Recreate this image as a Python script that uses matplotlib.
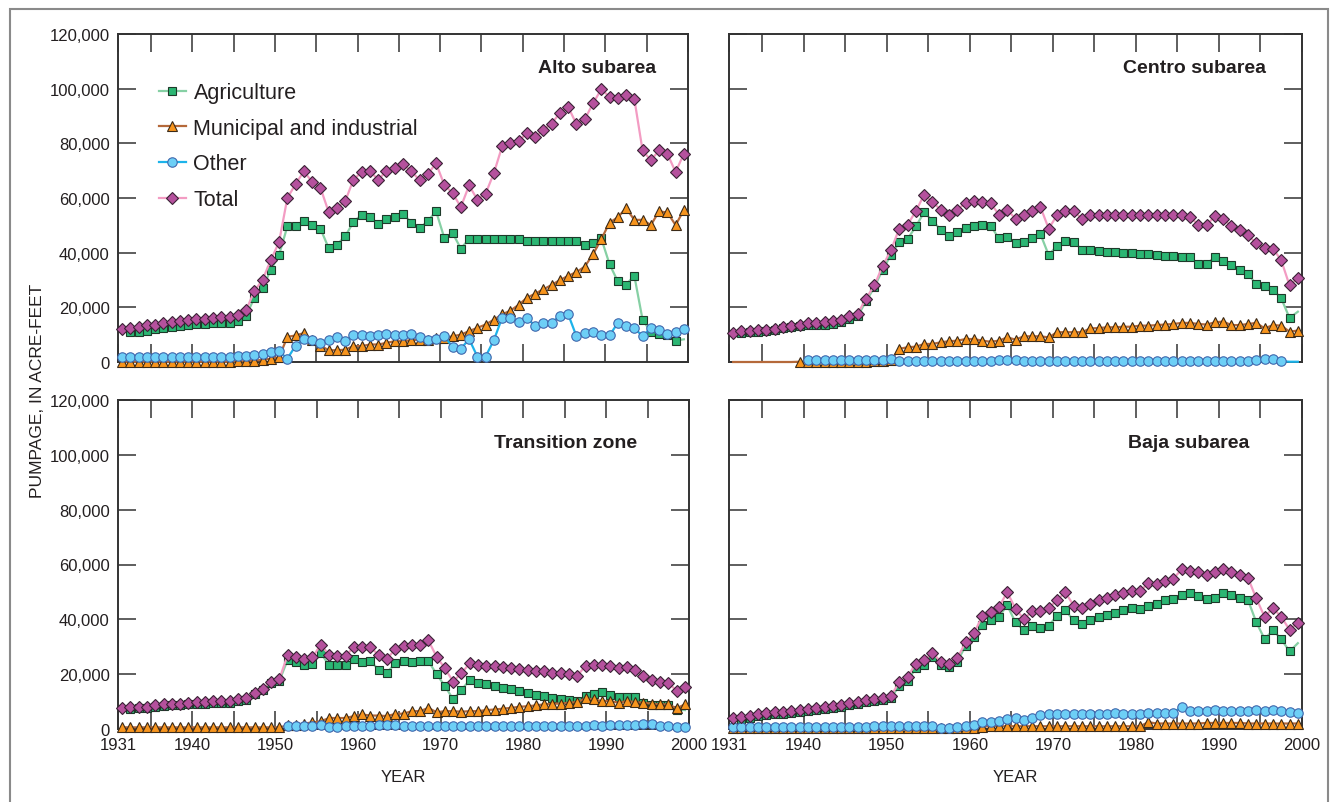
"""
    pumpage by subarea, 1931-1999
"""

import numpy as np
import matplotlib
matplotlib.use('Agg')
import matplotlib.pyplot as plt
from matplotlib.lines import Line2D
from matplotlib.patches import Rectangle

NAN = np.nan
years = np.arange(1931, 2000)

# pumpage, thousands of acre-feet, one value per year 1931-1999
alto_ag = [NAN, 10.8, 11.1, 11.4, 11.9, 12.5, 12.9, 13.3, 13.7, 13.9,
           13.9, 14.2, 14.3, 14.3, 15.1, 16.9, 23.4, 27.1, 33.7, 39.2,
           49.6, 49.9, 51.5, 50.0, 48.8, 41.7, 42.9, 46.0, 51.2, 53.9,
           53.2, 50.4, 52.2, 53.0, 54.3, 51.0, 49.0, 51.5, 55.2, 45.4,
           47.2, 41.5, 45.0, 45.0, 45.0, 45.0, 45.0, 45.0, 45.0, 44.1,
           44.1, 44.1, 44.1, 44.1, 44.1, 44.1, 42.8, 43.5, 45.2, 35.8,
           29.5, 28.3, 31.6, 15.5, 11.0, 10.2, 10.0, 7.8, 8.3]
alto_muni = [0.1, 0.1, 0.1, 0.1, 0.1, 0.1, 0.1, 0.1, 0.1, 0.1,
             0.1, 0.1, 0.1, 0.1, 0.2, 0.3, 0.5, 0.8, 1.2, 1.7,
             9.2, 9.7, 10.6, 8.0, 6.0, 4.3, 4.3, 4.5, 5.8, 5.8,
             6.4, 6.4, 7.0, 7.6, 7.6, 8.0, 8.2, 8.2, 8.8, 8.8,
             9.4, 10.0, 11.3, 12.5, 13.7, 15.5, 17.4, 18.8, 20.9, 23.5,
             25.0, 26.6, 28.2, 30.0, 31.5, 32.9, 34.9, 39.4, 44.9, 51.0,
             52.9, 56.3, 52.0, 52.0, 50.1, 55.1, 54.7, 50.1, 55.6]
alto_other = [1.7, 1.8, 1.8, 1.8, 1.9, 1.9, 1.9, 1.9, 1.9, 1.9,
              2.0, 2.0, 2.0, 2.0, 2.2, 2.3, 2.6, 3.1, 3.6, 3.9,
              1.2, 6.0, 8.5, 8.0, 7.0, 8.2, 9.2, 7.6, 9.7, 9.7,
              9.4, 9.7, 10.4, 9.7, 9.7, 10.4, 9.2, 8.0, 8.4, 9.4,
              5.5, 4.8, 8.4, 2.0, 2.0, 8.0, 16.2, 16.2, 14.6, 16.2,
              13.1, 14.1, 14.3, 17.0, 17.4, 9.4, 10.6, 11.0, 9.7, 9.7,
              14.3, 13.1, 12.5, 9.4, 12.5, 11.6, 10.4, 10.9, 12.1]
alto_total = [12.0, 12.5, 12.9, 13.5, 13.7, 14.1, 14.5, 15.1, 15.5, 15.7,
              15.9, 16.1, 16.3, 16.5, 17.1, 18.9, 25.9, 30.1, 37.3, 43.9,
              60.0, 65.1, 69.8, 65.9, 63.8, 54.9, 56.3, 58.8, 66.7, 69.5,
              69.8, 66.7, 69.9, 71.0, 72.3, 69.9, 66.5, 68.7, 72.7, 64.8,
              61.8, 56.7, 64.6, 59.4, 61.6, 69.1, 78.9, 80.1, 80.7, 83.9,
              82.2, 85.0, 87.2, 91.2, 93.3, 87.0, 88.8, 94.6, 99.8, 97.0,
              96.7, 97.6, 96.3, 77.4, 73.8, 77.4, 76.2, 69.5, 76.2]

centro_ag = [NAN, 10.7, 10.8, 11.1, 11.3, 11.7, 12.3, 12.7, 13.2, 13.4,
             13.4, 13.7, 14.0, 14.6, 15.9, 16.8, 22.2, 27.3, 33.8, 39.1,
             43.8, 45.0, 49.6, 54.8, 51.7, 48.4, 46.0, 47.4, 49.0, 49.9,
             50.1, 49.9, 45.2, 45.6, 43.5, 43.8, 45.2, 46.8, 39.1, 42.6,
             44.4, 44.0, 41.1, 41.0, 40.7, 40.4, 40.1, 39.9, 39.8, 39.5,
             39.4, 39.1, 38.9, 38.8, 38.5, 38.3, 35.9, 35.9, 38.3, 37.1,
             35.5, 33.8, 32.1, 28.4, 27.7, 26.5, 23.3, 16.1, 18.4]
centro_muni = [0.0, 0.0, 0.0, 0.0, 0.0, 0.0, 0.0, 0.0, 0.1, 0.1,
               0.1, 0.1, 0.1, 0.1, 0.1, 0.1, 0.1, 0.2, 0.3, 0.6,
               4.8, 5.4, 5.6, 6.6, 6.6, 7.2, 7.6, 7.8, 8.4, 8.4,
               7.8, 7.4, 7.8, 9.0, 8.2, 9.4, 9.4, 9.4, 9.0, 10.9,
               10.9, 10.9, 10.9, 12.3, 12.4, 12.7, 12.7, 12.9, 12.9, 13.3,
               13.3, 13.5, 13.7, 13.9, 14.3, 14.3, 13.9, 13.7, 14.5, 14.8,
               13.5, 13.5, 13.9, 14.3, 12.3, 13.5, 13.3, 11.1, 11.5]
centro_other = [NAN, NAN, NAN, NAN, NAN, NAN, NAN, NAN, NAN, 0.9,
                0.9, 0.9, 0.9, 0.9, 0.9, 0.9, 0.9, 0.9, 0.9, 1.0,
                0.2, 0.2, 0.2, 0.2, 0.2, 0.2, 0.2, 0.2, 0.2, 0.2,
                0.2, 0.2, 0.7, 0.8, 0.6, 0.2, 0.2, 0.2, 0.2, 0.2,
                0.2, 0.2, 0.2, 0.2, 0.2, 0.2, 0.2, 0.2, 0.2, 0.2,
                0.2, 0.2, 0.2, 0.2, 0.2, 0.2, 0.2, 0.2, 0.2, 0.2,
                0.2, 0.2, 0.2, 0.9, 1.1, 1.1, 0.3, 0.1, 0.1]
centro_total = [10.6, 11.2, 11.3, 11.6, 11.8, 12.2, 12.8, 13.2, 13.7, 14.3,
                14.3, 14.6, 14.9, 15.5, 16.8, 17.7, 23.2, 28.0, 35.1, 40.9,
                48.8, 50.2, 55.2, 61.2, 58.5, 55.7, 53.9, 55.7, 58.3, 58.8,
                58.5, 58.2, 53.9, 55.7, 52.4, 53.7, 55.2, 56.7, 48.8, 53.7,
                55.2, 55.2, 52.4, 53.7, 53.7, 53.7, 53.7, 53.7, 53.7, 53.7,
                53.7, 53.7, 53.7, 53.7, 53.7, 53.2, 50.2, 50.0, 53.4, 52.4,
                49.6, 48.2, 46.3, 43.5, 41.7, 41.5, 37.2, 28.0, 30.7]

trans_ag = [NAN, 7.4, 7.5, 7.5, 8.0, 8.4, 8.6, 8.7, 9.0, 9.2,
            9.3, 9.5, 9.5, 9.6, 10.2, 10.6, 12.7, 14.1, 16.6, 17.6,
            25.2, 24.3, 23.3, 23.7, 27.7, 23.3, 23.3, 23.3, 25.5, 24.3,
            24.8, 21.6, 20.6, 23.9, 24.9, 24.3, 24.8, 24.8, 20.0, 15.7,
            10.8, 14.2, 17.9, 16.9, 16.3, 15.7, 15.1, 14.5, 13.7, 13.0,
            12.4, 12.0, 11.4, 11.0, 10.6, 10.2, 12.0, 12.6, 13.5, 12.3,
            11.8, 11.8, 11.7, 9.6, 8.8, 8.8, 8.6, 7.1, 6.9]
trans_muni = [0.6, 0.6, 0.6, 0.6, 0.6, 0.6, 0.6, 0.6, 0.6, 0.6,
              0.6, 0.6, 0.6, 0.6, 0.6, 0.6, 0.6, 0.6, 0.6, 0.6,
              1.3, 1.6, 2.0, 2.4, 2.8, 4.0, 4.0, 4.0, 4.7, 5.3,
              4.9, 4.9, 4.7, 5.5, 5.6, 6.5, 6.5, 7.7, 6.1, 6.5,
              6.5, 6.3, 6.5, 6.5, 6.9, 7.1, 7.4, 7.7, 8.1, 8.3,
              8.6, 9.0, 9.2, 9.3, 9.6, 9.8, 11.2, 10.8, 10.2, 10.2,
              9.6, 10.2, 9.8, 9.6, 9.2, 9.0, 9.0, 7.5, 9.0]
trans_other = [NAN, NAN, NAN, NAN, NAN, NAN, NAN, NAN, NAN, NAN,
               NAN, NAN, NAN, NAN, NAN, NAN, NAN, NAN, NAN, NAN,
               1.0, 1.0, 1.2, 1.2, 1.6, 0.7, 0.7, 1.0, 1.0, 1.2,
               1.2, 1.5, 1.5, 1.5, 1.2, 1.0, 1.0, 1.0, 1.0, 1.0,
               1.0, 1.0, 1.0, 1.0, 1.0, 1.0, 1.0, 1.0, 1.0, 1.0,
               1.0, 1.0, 1.0, 1.0, 1.0, 1.0, 1.2, 1.5, 1.2, 1.5,
               1.5, 1.5, 1.6, 2.0, 2.0, 1.2, 1.0, 0.7, 0.8]
trans_total = [7.7, 8.0, 8.1, 8.1, 8.6, 9.0, 9.2, 9.3, 9.6, 9.8,
               9.9, 10.1, 10.1, 10.2, 10.8, 11.2, 13.3, 14.7, 17.2, 18.2,
               27.0, 26.1, 25.5, 26.1, 30.8, 27.0, 26.7, 26.7, 29.8, 29.8,
               29.8, 27.0, 25.5, 29.2, 30.4, 30.8, 30.8, 32.3, 26.4, 22.1,
               17.3, 20.4, 23.9, 23.4, 23.1, 22.8, 22.5, 22.1, 21.8, 21.6,
               21.2, 21.0, 20.6, 20.4, 20.0, 19.4, 23.1, 23.4, 23.3, 22.8,
               22.1, 22.5, 21.5, 19.4, 17.8, 17.3, 16.9, 13.9, 15.5]

baja_ag = [NAN, 3.8, 4.1, 4.7, 5.0, 5.4, 5.6, 6.0, 6.3, 6.5,
           6.9, 7.2, 7.7, 8.1, 8.7, 9.1, 9.7, 10.2, 10.5, 11.4,
           15.7, 17.6, 22.2, 23.4, 26.2, 23.4, 22.6, 24.6, 30.4, 33.5,
           37.8, 39.6, 40.9, 45.1, 38.9, 36.0, 37.7, 36.8, 37.7, 41.3,
           43.3, 39.6, 38.4, 39.6, 40.9, 41.7, 42.3, 43.5, 44.1, 43.8,
           44.8, 45.7, 47.0, 47.4, 48.7, 49.6, 48.4, 47.4, 47.6, 49.6,
           48.7, 47.8, 47.0, 38.9, 32.8, 36.0, 32.8, 28.3, 31.3]
baja_muni = [0.2, 0.2, 0.2, 0.2, 0.2, 0.2, 0.2, 0.2, 0.2, 0.2,
             0.2, 0.2, 0.2, 0.2, 0.2, 0.2, 0.2, 0.2, 0.2, 0.2,
             0.2, 0.2, 0.2, 0.2, 0.2, 0.2, 0.2, 0.2, 0.2, 0.2,
             0.9, 1.0, 1.0, 1.0, 1.0, 1.0, 1.0, 1.0, 1.0, 1.0,
             1.0, 1.0, 1.0, 1.0, 1.0, 1.0, 1.0, 1.0, 1.0, 1.0,
             2.5, 2.0, 2.0, 2.0, 2.0, 2.0, 2.0, 2.2, 2.2, 2.2,
             2.2, 2.2, 2.0, 2.0, 2.0, 2.0, 2.0, 2.0, 2.0]
baja_other = [0.7, 0.7, 0.7, 0.7, 0.7, 0.7, 0.7, 0.7, 0.7, 0.7,
              0.7, 0.7, 0.7, 0.7, 0.7, 0.7, 0.7, 1.0, 1.0, 1.0,
              1.0, 1.0, 1.0, 1.0, 1.0, 0.4, 0.4, 0.7, 1.0, 1.6,
              2.5, 2.5, 3.1, 3.7, 4.0, 3.4, 4.0, 5.0, 5.6, 5.6,
              5.6, 5.3, 5.3, 5.3, 5.3, 5.6, 5.9, 5.6, 5.6, 5.6,
              5.9, 5.9, 5.9, 5.9, 8.1, 6.5, 6.7, 6.7, 7.0, 6.7,
              6.7, 6.7, 6.7, 6.9, 6.7, 6.9, 6.5, 6.1, 5.9]
baja_total = [3.9, 4.5, 4.8, 5.4, 5.7, 6.1, 6.3, 6.7, 7.0, 7.2,
              7.6, 7.9, 8.4, 8.8, 9.4, 9.8, 10.4, 10.9, 11.2, 12.1,
              17.0, 19.1, 23.8, 25.0, 27.7, 24.6, 23.8, 25.9, 31.6, 35.0,
              41.1, 42.7, 44.5, 49.9, 43.9, 40.1, 42.9, 42.9, 44.1, 47.0,
              49.9, 45.0, 44.1, 45.7, 47.0, 47.8, 49.0, 49.6, 50.2, 50.2,
              53.3, 53.0, 53.9, 54.8, 58.2, 57.6, 57.2, 56.3, 57.2, 58.4,
              57.2, 56.3, 55.1, 47.6, 40.9, 44.1, 40.9, 36.2, 38.7]

series_names = ['Agriculture', 'Municipal and industrial', 'Other', 'Total']
panel_titles = ['Alto subarea', 'Centro subarea', 'Transition zone', 'Baja subarea']
panel_data = [
    [alto_ag, alto_muni, alto_other, alto_total],
    [centro_ag, centro_muni, centro_other, centro_total],
    [trans_ag, trans_muni, trans_other, trans_total],
    [baja_ag, baja_muni, baja_other, baja_total],
]
# years drawn as line only (no symbol)
line_only = {
    ('Centro subarea', 'Municipal and industrial'): list(range(1931, 1939)),
    ('Centro subarea', 'Other'): [1998, 1999],
}

xtick_years = [1931, 1940, 1950, 1960, 1970, 1980, 1990, 2000]
minor_years = [1935, 1945, 1955, 1965, 1975, 1985, 1995]
yticks = [0, 20000, 40000, 60000, 80000, 100000, 120000]

# style: line colour, marker, face colour, edge colour, size
styles = {
    'Agriculture': ('#86d0a4', 's', '#2bb673', '#1e3a2a', 6.4),
    'Municipal and industrial': ('#b5693a', '^', '#f7941d', '#3b2a18', 7.2),
    'Other': ('#1cb3ea', 'o', '#6dcff6', '#3f67ad', 6.8),
    'Total': ('#f39cc3', 'D', '#b5519d', '#3a2235', 5.8),
}

plt.rcParams['font.family'] = ['Liberation Sans', 'DejaVu Sans']
TXT = '#231f20'

fig = plt.figure(figsize=(13.3, 8.03), dpi=100)

W, H = 1330.0, 803.0
boxes = [(118, 35, 570, 328), (729, 35, 573, 328),
         (118, 401, 571, 329), (729, 401, 573, 329)]
title_pos = [(0.944, 0.898), (0.938, 0.898), (0.91, 0.872), (0.909, 0.872)]

for i, (title, data) in enumerate(zip(panel_titles, panel_data)):
    l, t, w, h = boxes[i]
    ax = fig.add_axes([l / W, 1 - (t + h) / H, w / W, h / H])
    x = years + 0.5  # plotted at mid-year
    for name, vals in zip(series_names, data):
        lc, mk, fc, ec, ms = styles[name]
        v = np.array(vals, dtype=float) * 1000
        show = ~np.isnan(v)
        if name == 'Agriculture':
            show[-1] = False
        for yr in line_only.get((title, name), []):
            show[yr - 1931] = False
        ax.plot(x, v, color=lc, lw=1.6, marker=mk, ms=ms, mfc=fc, mec=ec,
                mew=0.8, markevery=list(show), clip_on=False, zorder=3)

    ax.set_xlim(1931, 2000)
    ax.set_ylim(0, 120000)
    ax.set_xticks(xtick_years)
    ax.set_xticks(minor_years, minor=True)
    ax.set_yticks(yticks)
    ax.tick_params(which='both', direction='in', length=13, width=1.1,
                   color='#333333', top=True, right=True, labelsize=12,
                   labelcolor=TXT, pad=6)
    if i % 2 == 0:
        ax.set_yticklabels([f'{v:,}' for v in yticks])
    else:
        ax.set_yticklabels([])
    if i >= 2:
        ax.set_xticklabels([str(y) for y in xtick_years])
        ax.set_xlabel('YEAR', fontsize=12, labelpad=12, color=TXT)
    else:
        ax.set_xticklabels([])
    for s in ax.spines.values():
        s.set_linewidth(1.4)
        s.set_color('#333333')
    ax.text(title_pos[i][0], title_pos[i][1], title, transform=ax.transAxes,
            ha='right', va='center', fontsize=14, fontweight='bold',
            color=TXT)

    if i == 0:
        handles = []
        for name in series_names:
            lc, mk, fc, ec, ms = styles[name]
            handles.append(Line2D([], [], color=lc, lw=1.6, marker=mk, ms=ms,
                                  mfc=fc, mec=ec, mew=0.8))
        leg = ax.legend(handles, series_names, loc='upper left',
                        bbox_to_anchor=(0.072, 0.853), frameon=False,
                        prop={'size': 15.5},
                        handlelength=1.25, handletextpad=0.35,
                        labelspacing=0.68, borderpad=0, borderaxespad=0,
                        numpoints=1)
        for txt in leg.get_texts():
            txt.set_color(TXT)

fig.text(38 / W, 1 - 391 / H, 'PUMPAGE, IN ACRE-FEET', rotation=90,
         ha='center', va='center', fontsize=12.5, color=TXT)

fig.patches.append(Rectangle((10 / W, -0.02), 1318 / W, 1 - 10 / H + 0.02,
                             transform=fig.transFigure, fill=False,
                             edgecolor='#8a8a8a', lw=1.5))

plt.savefig('out.png', dpi=100)
plt.close()
